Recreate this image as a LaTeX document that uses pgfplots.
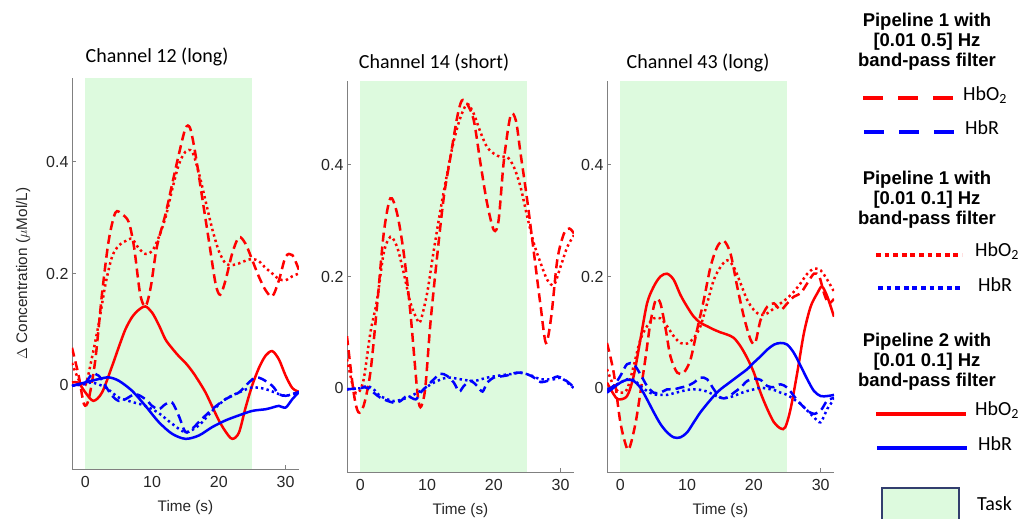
\documentclass[border=0pt]{standalone}
\usepackage{fontspec}
\setmainfont{Liberation Sans}
\newfontfamily\carlito{Carlito}
\usepackage{pgfplots}
\pgfplotsset{compat=1.18}
\definecolor{taskgreen}{RGB}{221,250,222}
\definecolor{taskborder}{RGB}{50,62,110}
\definecolor{axgray}{RGB}{128,128,128}
\definecolor{mred}{RGB}{255,0,0}
\definecolor{mblue}{RGB}{0,0,255}
\pgfplotsset{
  panel/.style={
    anchor=south west, width=227pt, height=391pt, scale only axis,
    xmin=-2, xmax=32, ymin=-0.15, ymax=0.55,
    axis lines*=left,
    axis line style={axgray, line width=0.9pt},
    tick style={axgray, line width=0.8pt},
    major tick length=4pt, tick align=inside,
    xtick={0,10,20,30}, ytick={0,0.2,0.4},
    /pgf/number format/assume math mode=true,
    ticklabel style={font=\fontsize{16}{19}\selectfont, text=black!85},
    xticklabel style={yshift=-4pt},
    label style={font=\fontsize{15.3}{18}\selectfont, text=black!85},
    xlabel={Time (s)},
    xlabel style={at={(axis description cs:0.5,-0.098)}, anchor=center},
    clip=true,
  },
  p5/.style={line width=2.5pt, dash pattern=on 9pt off 5pt, smooth},
  p1/.style={line width=2.5pt, dash pattern=on 2.4pt off 3.2pt, smooth},
  p2/.style={line width=2.5pt, smooth},
}
\begin{document}
\begin{tikzpicture}[x=1pt,y=1pt]
\useasboundingbox (0,0) rectangle (1021,519);

% ---------------- Panel 1 ----------------
\begin{axis}[panel, at={(72pt,50pt)},
  ylabel={$\Delta$ Concentration ($\mu$Mol/L)},
  ylabel style={at={(axis description cs:-0.215,0.5)}, anchor=center}]
\addplot[draw=none, fill=taskgreen] coordinates {(0,-0.15) (25,-0.15) (25,0.55) (0,0.55)} -- cycle;
\addplot[mred,p5] coordinates {(-2,0.067)(-1,0.017)(-0.2,-0.034)(0.5,-0.025)(1.5,0.046)(2.5,0.164)(3.5,0.259)(4.5,0.309)(5.5,0.306)(6.5,0.292)(7.3,0.247)(8.2,0.164)(9,0.141)(9.8,0.176)(10.7,0.247)(12,0.306)(13,0.36)(14,0.413)(15,0.46)(15.7,0.46)(16.5,0.413)(17.5,0.336)(18.5,0.259)(19.5,0.182)(20.2,0.162)(21,0.188)(22,0.236)(23,0.265)(24,0.253)(25,0.224)(26,0.194)(27,0.17)(28,0.159)(29,0.188)(30,0.23)(31,0.233)(32,0.206)};
\addplot[mred,p1] coordinates {(-2,0.04)(-1,0.01)(0,0.0)(1,0.05)(2,0.11)(3,0.18)(4,0.23)(5,0.25)(6,0.258)(7,0.262)(8,0.245)(9,0.235)(10,0.24)(11,0.265)(12,0.3)(13,0.35)(14,0.395)(15,0.418)(16,0.418)(17,0.38)(18,0.33)(19,0.28)(20,0.24)(21,0.218)(22,0.215)(23,0.218)(24,0.223)(25,0.226)(26,0.222)(27,0.21)(28,0.2)(29,0.19)(30,0.188)(31,0.195)(32,0.2)};
\addplot[mred,p2] coordinates {(-2,0.005)(-1,0.004)(0,-0.013)(1.2,-0.028)(2.5,-0.013)(4,0.034)(5,0.068)(6,0.1)(7,0.122)(8,0.135)(9,0.141)(10,0.13)(11,0.108)(12,0.082)(13,0.066)(14,0.052)(15,0.04)(16,0.025)(17,0.007)(18,-0.013)(19,-0.038)(20,-0.063)(21,-0.083)(22,-0.096)(23,-0.085)(24,-0.04)(25,0.0)(26,0.031)(27,0.053)(28,0.061)(29,0.046)(30,0.017)(31,-0.005)(32,-0.012)};
\addplot[mblue,p2] coordinates {(-2,-0.001)(0,0.005)(2,0.011)(3.5,0.014)(5,0.008)(7,-0.01)(9,-0.037)(11,-0.066)(13,-0.087)(15,-0.096)(17,-0.09)(19,-0.075)(21,-0.063)(23,-0.054)(25,-0.046)(27,-0.043)(28,-0.04)(29,-0.037)(30,-0.04)(31,-0.025)(32,-0.012)};
\addplot[mblue,p5] coordinates {(-2,-0.001)(0,0.005)(1,0.02)(2,0.017)(3,-0.001)(4,-0.019)(5,-0.028)(6,-0.025)(7.5,-0.016)(9,-0.025)(10,-0.037)(11,-0.043)(12,-0.034)(13,-0.031)(14,-0.055)(15,-0.084)(16,-0.078)(17,-0.066)(19,-0.043)(21,-0.025)(23,-0.013)(24.5,0.005)(25.5,0.014)(26.5,0.011)(28,-0.001)(29,-0.016)(30,-0.019)(31,-0.016)(32,-0.012)};
\addplot[mblue,p1] coordinates {(-2,-0.001)(0,0.002)(1,0.005)(3,-0.004)(5,-0.022)(7,-0.03)(9,-0.037)(11,-0.05)(13,-0.069)(15,-0.084)(17,-0.072)(19,-0.046)(21,-0.025)(23,-0.013)(25,-0.004)(27,-0.007)(29,-0.016)(30,-0.019)(31,-0.016)(32,-0.012)};
\end{axis}

% ---------------- Panel 2 ----------------
\begin{axis}[panel, at={(347pt,47pt)}]
\addplot[draw=none, fill=taskgreen] coordinates {(0,-0.15) (25,-0.15) (25,0.55) (0,0.55)} -- cycle;
\addplot[mred,p5] coordinates {(-2,0.093)(-1,-0.008)(-0.3,-0.043)(0.5,-0.031)(1.5,0.028)(2.5,0.147)(3.5,0.277)(4.5,0.34)(5.5,0.313)(6.5,0.242)(7.5,0.135)(8.5,-0.002)(9,-0.034)(9.7,-0.002)(10.5,0.117)(11.5,0.236)(12.5,0.342)(13.5,0.414)(14.5,0.485)(15.2,0.515)(16,0.509)(17,0.479)(18,0.402)(19,0.33)(20,0.283)(20.7,0.3)(21.5,0.408)(22.5,0.488)(23.3,0.479)(24,0.42)(25,0.336)(26,0.242)(27,0.147)(27.8,0.081)(28.6,0.129)(29.5,0.23)(30.5,0.277)(31.3,0.286)(32,0.277)};
\addplot[mred,p1] coordinates {(-2,0.052)(-1,-0.002)(-0.3,-0.008)(0.5,0.016)(1.5,0.099)(2.5,0.158)(3.5,0.242)(4.5,0.271)(5.5,0.253)(6.5,0.206)(7.5,0.153)(8.5,0.123)(9,0.12)(10,0.17)(11,0.247)(12,0.319)(13,0.384)(14,0.443)(15,0.485)(16,0.509)(17,0.491)(18,0.458)(19,0.431)(20,0.42)(21,0.414)(22,0.414)(23,0.396)(24,0.36)(25,0.307)(26,0.259)(27,0.224)(28,0.194)(29,0.185)(30,0.218)(31,0.253)(32,0.274)};
\addplot[mblue,p5] coordinates {(-2,-0.002)(0,0)(1,0.001)(3,-0.017)(5,-0.026)(6,-0.023)(7,-0.014)(8.3,-0.02)(9,-0.008)(10,0.004)(11,0.016)(12,0.026)(13,0.022)(14,0.01)(14.8,-0.006)(15.5,0.004)(16.5,0.013)(17.5,0.004)(18.3,-0.006)(19,0.01)(20,0.019)(21,0.021)(22,0.023)(23.5,0.028)(25,0.025)(26,0.019)(27,0.011)(28,0.013)(29.5,0.021)(30.5,0.016)(31.5,0.007)(32,0)};
\addplot[mblue,p1] coordinates {(-2,-0.002)(0,0)(1,0.004)(2,-0.002)(3,-0.014)(5,-0.023)(7,-0.017)(9,-0.005)(11,0.01)(13,0.019)(15,0.016)(17,0.013)(19,0.019)(21,0.023)(23,0.026)(24,0.028)(25,0.025)(26,0.021)(27,0.016)(29,0.016)(30,0.019)(31,0.01)(32,0)};
\end{axis}

% ---------------- Panel 3 ----------------
\begin{axis}[panel, at={(607pt,47pt)}]
\addplot[draw=none, fill=taskgreen] coordinates {(0,-0.15) (25,-0.15) (25,0.55) (0,0.55)} -- cycle;
\addplot[mred,p2] coordinates {(-2,0.01)(-1,-0.011)(-0.3,-0.02)(1,-0.014)(2,0.022)(3,0.087)(4,0.152)(5,0.182)(6,0.2)(7,0.205)(8,0.194)(9,0.167)(10,0.146)(11,0.128)(12,0.117)(13,0.111)(14,0.105)(15,0.1)(16,0.096)(17,0.09)(18,0.075)(19,0.054)(20,0.028)(21,-0.008)(22,-0.037)(23,-0.061)(24,-0.072)(24.7,-0.07)(25.5,-0.037)(26.5,0.028)(27.5,0.099)(28.5,0.146)(29.5,0.17)(30.2,0.182)(31,0.164)(32,0.128)};
\addplot[mred,p5] coordinates {(-2,0.081)(-1,0.028)(0,-0.061)(1,-0.108)(1.5,-0.102)(2.3,-0.061)(3,-0.008)(3.8,0.057)(4.5,0.117)(5.3,0.158)(6,0.152)(6.8,0.105)(7.5,0.057)(8.5,0.028)(9.5,0.028)(10.5,0.051)(11.5,0.105)(12.5,0.158)(13.5,0.217)(14.5,0.253)(15.5,0.264)(16.5,0.241)(17.5,0.182)(18.5,0.128)(19.5,0.087)(20.2,0.081)(21,0.122)(22,0.146)(23,0.152)(24,0.14)(25,0.152)(26,0.164)(27,0.17)(28,0.188)(29,0.205)(29.8,0.2)(30.5,0.17)(31.2,0.152)(32,0.16)};
\addplot[mred,p1] coordinates {(-2,0.034)(-1,0.004)(0,-0.008)(1,-0.002)(2,0.04)(3,0.087)(4,0.111)(5,0.125)(6,0.125)(7,0.111)(8,0.093)(9,0.081)(10,0.08)(11,0.09)(12,0.111)(13,0.152)(14,0.194)(15,0.217)(16,0.229)(17,0.217)(18,0.188)(19,0.158)(20,0.14)(21,0.131)(22,0.134)(23,0.143)(24,0.152)(25,0.161)(26,0.173)(27,0.188)(28,0.205)(29,0.214)(30,0.211)(31,0.194)(32,0.173)};
\addplot[mblue,p2] coordinates {(-2,-0.008)(-1,0.001)(0,0.01)(1,0.015)(2,0.013)(3,0.001)(4,-0.02)(5,-0.043)(6,-0.064)(7,-0.079)(8,-0.088)(9,-0.088)(10,-0.079)(11,-0.061)(12,-0.043)(13,-0.028)(14,-0.014)(15,-0.002)(16,0.007)(17,0.016)(18,0.025)(19,0.034)(20,0.046)(21,0.057)(22,0.069)(23,0.078)(24,0.081)(25,0.078)(26,0.063)(27,0.04)(28,0.016)(29,-0.005)(30,-0.014)(31,-0.014)(32,-0.012)};
\addplot[mblue,p5] coordinates {(-2,-0.002)(-1,0.004)(0,0.022)(1,0.043)(2,0.043)(3,0.025)(4,0.004)(5,-0.008)(6,-0.008)(7,-0.002)(8,-0.002)(9,0.001)(10,0.004)(11,0.01)(12,0.019)(13,0.016)(14,-0.002)(15,-0.017)(16,-0.017)(17,-0.008)(18,0.001)(19,0.013)(20,0.017)(21,0.015)(22,0.004)(23,0.002)(24,0.007)(25,0.001)(26,-0.014)(27,-0.028)(28,-0.04)(29,-0.046)(30,-0.04)(30.5,-0.031)(31,-0.022)(32,-0.017)};
\addplot[mblue,p1] coordinates {(-2,-0.005)(-1,0.004)(0,0.01)(1,0.016)(2,0.015)(3,0.004)(4,-0.005)(5,-0.011)(6,-0.012)(7,-0.012)(8,-0.009)(9,-0.006)(10,-0.003)(11,-0.002)(12,-0.003)(13,-0.006)(14,-0.012)(15,-0.017)(16,-0.017)(17,-0.014)(18,-0.009)(19,-0.005)(20,-0.002)(21,0.001)(22,-0.001)(23,-0.003)(24,-0.008)(25,-0.012)(26,-0.02)(27,-0.028)(28,-0.04)(29,-0.052)(30,-0.061)(31,-0.037)(32,-0.02)};
\end{axis}

% ---------------- Titles ----------------
\node[font=\carlito\fontsize{20}{24}\selectfont, anchor=center] at (157,462) {Channel 12 (long)};
\node[font=\carlito\fontsize{20}{24}\selectfont, anchor=center] at (434,456) {Channel 14 (short)};
\node[font=\carlito\fontsize{20}{24}\selectfont, anchor=center] at (698,456) {Channel 43 (long)};

% ---------------- Legend ----------------
\begin{scope}[every node/.style={font=\bfseries\fontsize{18.5}{20}\selectfont, anchor=base, inner sep=0pt}]
\node at (927,492) {Pipeline 1 with};
\node at (927,472) {{[}0.01 0.5{]} Hz};
\node at (927,452) {band-pass filter};
\node at (927,334) {Pipeline 1 with};
\node at (927,314) {{[}0.01 0.1{]} Hz};
\node at (927,294) {band-pass filter};
\node at (927,172) {Pipeline 2 with};
\node at (927,152) {{[}0.01 0.1{]} Hz};
\node at (927,132) {band-pass filter};
\end{scope}
\begin{scope}[every node/.style={font=\carlito\fontsize{20}{24}\selectfont, anchor=west, inner sep=0pt}]
\draw[mred, line width=4pt, dash pattern=on 20pt off 15pt] (863,421) -- (953,421);
\node at (963,424) {HbO\textsubscript{2}};
\draw[mblue, line width=4pt, dash pattern=on 20pt off 15pt] (864,387) -- (954,387);
\node at (965,391) {HbR};
\draw[mred, line width=4pt, dash pattern=on 4.7pt off 3.9pt] (876,264) -- (962,264);
\node at (975,268) {HbO\textsubscript{2}};
\draw[mblue, line width=4pt, dash pattern=on 4.7pt off 3.9pt] (878,231) -- (962,231);
\node at (978,234) {HbR};
\draw[mred, line width=4pt] (876,105) -- (966,105);
\node at (975,109) {HbO\textsubscript{2}};
\draw[mblue, line width=4pt] (877,71) -- (967,71);
\node at (978,75) {HbR};
\draw[taskborder, fill=taskgreen, line width=1.2pt] (882,-5) rectangle (959,31);
\node at (977,15) {Task};
\end{scope}
\end{tikzpicture}
\end{document}
